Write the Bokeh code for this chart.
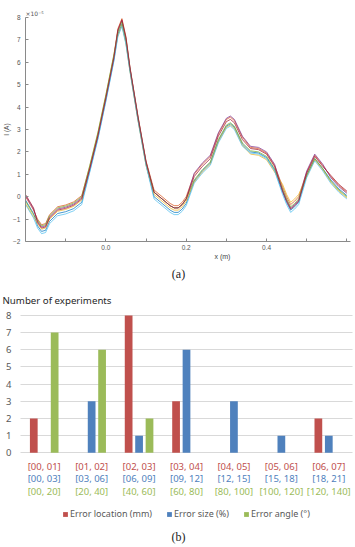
from bokeh.plotting import figure
from bokeh.models import (FixedTicker, Legend, LegendItem, Range1d, ColumnDataSource,
                          Title, Grid, PrintfTickFormatter)
from bokeh.transform import dodge
from bokeh.embed import file_html
from bokeh.resources import INLINE
from bokeh.core.properties import value

# ---------------- (a) current profiles along x ----------------
x_m = [-0.20, -0.18, -0.17, -0.16, -0.15, -0.14,
       -0.12, -0.10, -0.08, -0.06, -0.04, -0.02,
       0.00, 0.02, 0.03, 0.04, 0.05, 0.06,
       0.08, 0.10, 0.12, 0.14, 0.16, 0.17,
       0.18, 0.19, 0.20, 0.22, 0.24, 0.26,
       0.28, 0.30, 0.31, 0.32, 0.34, 0.36,
       0.38, 0.40, 0.42, 0.44, 0.45, 0.46,
       0.47, 0.48, 0.50, 0.52, 0.54, 0.56,
       0.58, 0.60]

# current in units of 1e-5 A
i_blue = [-0.15, -0.75, -1.30, -1.55, -1.50, -1.10,
          -0.75, -0.67, -0.53, -0.25, 1.15, 2.60,
          4.30, 6.10, 7.25, 7.70, 6.90, 5.65,
          3.45, 1.45, 0.00, -0.30, -0.60, -0.70,
          -0.70, -0.55, -0.30, 0.70, 1.15, 1.50,
          2.50, 3.15, 3.25, 3.10, 2.35, 2.00,
          1.95, 1.75, 1.20, 0.20, -0.25, -0.60,
          -0.45, -0.25, 0.95, 1.70, 1.25, 0.75,
          0.35, 0.05]
i_orange = [0.00, -0.60, -1.00, -1.25, -1.20, -0.80,
            -0.45, -0.37, -0.23, 0.05, 1.35, 2.80,
            4.50, 6.30, 7.50, 7.95, 7.15, 5.80,
            3.60, 1.60, 0.30, 0.00, -0.30, -0.40,
            -0.40, -0.25, 0.00, 1.00, 1.45, 1.80,
            2.80, 3.45, 3.55, 3.40, 2.65, 2.20,
            2.15, 1.95, 1.40, 0.45, 0.00, -0.35,
            -0.20, 0.00, 1.10, 1.85, 1.40, 0.90,
            0.50, 0.20]
i_yellow = [-0.30, -0.90, -1.20, -1.45, -1.40, -1.00,
            -0.65, -0.57, -0.43, -0.15, 1.30, 2.75,
            4.45, 6.25, 7.20, 7.65, 6.85, 5.60,
            3.40, 1.40, 0.10, -0.20, -0.50, -0.60,
            -0.60, -0.45, -0.20, 0.65, 1.10, 1.45,
            2.45, 3.10, 3.20, 3.05, 2.30, 1.90,
            1.85, 1.65, 1.10, 0.55, 0.10, -0.25,
            -0.10, 0.10, 0.90, 1.65, 1.20, 0.65,
            0.25, -0.05]
i_purple = [0.05, -0.55, -1.10, -1.35, -1.30, -0.90,
            -0.55, -0.47, -0.33, -0.05, 1.25, 2.70,
            4.40, 6.20, 7.40, 7.85, 7.05, 5.75,
            3.55, 1.55, 0.20, -0.10, -0.40, -0.50,
            -0.50, -0.35, -0.10, 1.05, 1.50, 1.85,
            2.85, 3.50, 3.60, 3.45, 2.70, 2.25,
            2.20, 2.00, 1.45, 0.30, -0.15, -0.50,
            -0.35, -0.15, 1.15, 1.90, 1.45, 0.85,
            0.45, 0.15]
i_green = [-0.20, -0.80, -1.05, -1.30, -1.25, -0.85,
           -0.50, -0.42, -0.28, 0.00, 1.40, 2.85,
           4.55, 6.35, 7.35, 7.80, 7.00, 5.70,
           3.50, 1.50, 0.20, -0.10, -0.40, -0.50,
           -0.50, -0.35, -0.10, 0.75, 1.20, 1.55,
           2.55, 3.20, 3.30, 3.15, 2.40, 2.05,
           2.00, 1.80, 1.25, 0.35, -0.10, -0.45,
           -0.30, -0.10, 0.95, 1.70, 1.25, 0.70,
           0.30, 0.00]
i_cyan = [-0.35, -0.95, -1.40, -1.65, -1.60, -1.20,
          -0.85, -0.77, -0.63, -0.35, 1.10, 2.55,
          4.25, 6.05, 7.15, 7.60, 6.80, 5.60,
          3.40, 1.40, -0.10, -0.40, -0.70, -0.80,
          -0.80, -0.65, -0.40, 0.60, 1.05, 1.40,
          2.40, 3.05, 3.15, 3.00, 2.25, 1.95,
          1.90, 1.70, 1.15, 0.10, -0.35, -0.70,
          -0.55, -0.35, 0.85, 1.60, 1.15, 0.60,
          0.20, -0.10]
i_darkred = [0.10, -0.50, -1.15, -1.40, -1.35, -0.95,
             -0.60, -0.52, -0.38, -0.10, 1.25, 2.70,
             4.40, 6.20, 7.45, 7.90, 7.10, 5.75,
             3.55, 1.55, 0.20, -0.10, -0.40, -0.50,
             -0.50, -0.35, -0.10, 0.90, 1.35, 1.70,
             2.70, 3.35, 3.45, 3.30, 2.55, 2.15,
             2.10, 1.90, 1.35, 0.25, -0.20, -0.55,
             -0.40, -0.20, 1.05, 1.80, 1.35, 0.95,
             0.55, 0.25]

profiles = [i_blue, i_orange, i_yellow, i_purple, i_green, i_cyan, i_darkred]
profile_colors = ["#0072BD", "#D95319", "#EDB120", "#7E2F8E", "#77AC30", "#4DBEEE", "#A2142F"]

x_major = [0.0, 0.2, 0.4]
x_minor = [-0.1, 0.1, 0.3, 0.5, 0.6]
y_ticks_a = [-2, -1, 0, 1, 2, 3, 4, 5, 6, 7, 8]

top = figure(width=355, height=266, output_backend="svg", toolbar_location=None,
             x_range=Range1d(-0.2, 0.609), y_range=Range1d(-2, 8),
             min_border_left=25, min_border_right=5, min_border_top=17, min_border_bottom=25)
top.outline_line_color = None
top.grid.visible = False

for ys, c in zip(profiles, profile_colors):
    top.line(x_m, ys, line_color=c, line_width=1.0, line_alpha=0.72, line_join="round")

top.xaxis.ticker = FixedTicker(ticks=x_major, minor_ticks=x_minor)
top.xaxis.formatter = PrintfTickFormatter(format="%.1f")
top.yaxis.ticker = FixedTicker(ticks=y_ticks_a)
for ax in (top.xaxis[0], top.yaxis[0]):
    ax.axis_line_color = "#8a8a8a"
    ax.major_tick_line_color = "#8a8a8a"
    ax.minor_tick_line_color = "#8a8a8a"
    ax.major_tick_in = 3
    ax.major_tick_out = 0
    ax.minor_tick_in = 3
    ax.minor_tick_out = 0
    ax.major_label_text_font = "Liberation Sans"
    ax.major_label_text_font_size = "6.5px"
    ax.major_label_text_color = "#555555"
top.xaxis.major_label_standoff = 3
top.yaxis.major_label_standoff = 5
top.yaxis.axis_label = "I (A)"
top.yaxis.axis_label_text_font = "Liberation Sans"
top.yaxis.axis_label_text_font_size = "6.5px"
top.yaxis.axis_label_text_font_style = "normal"
top.yaxis.axis_label_text_color = "#444444"
top.yaxis.axis_label_standoff = 0

top.add_layout(Title(text="×10⁻⁵", align="left", offset=0, standoff=2,
                     text_font="DejaVu Sans", text_font_size="6px",
                     text_font_style="normal", text_color="#555555"), "above")
top.add_layout(Title(text="x (m)", align="left", offset=189, standoff=0,
                     vertical_align="top", text_font="Liberation Sans",
                     text_font_size="7px", text_font_style="normal",
                     text_color="#444444"), "below")

# ---------------- (b) histogram of experiment errors ----------------
groups = [0, 1, 2, 3, 4, 5, 6]
loc_labels = ["[00, 01]", "[01, 02]", "[02, 03]", "[03, 04]", "[04, 05]", "[05, 06]", "[06, 07]"]
size_labels = ["[00, 03]", "[03, 06]", "[06, 09]", "[09, 12]", "[12, 15]", "[15, 18]", "[18, 21]"]
angle_labels = ["[00, 20]", "[20, 40]", "[40, 60]", "[60, 80]", "[80, 100]", "[100, 120]", "[120, 140]"]
loc_counts = [2, 0, 8, 3, 0, 0, 2]
size_counts = [0, 3, 1, 6, 3, 1, 1]
angle_counts = [7, 6, 2, 0, 0, 0, 0]
y_ticks_b = [0, 1, 2, 3, 4, 5, 6, 7, 8]

c_loc, c_size, c_angle = "#C0504D", "#4F81BD", "#9BBB59"

src = ColumnDataSource(dict(g=groups, loc=loc_counts, size=size_counts, angle=angle_counts,
                            loc_lab=loc_labels, size_lab=size_labels, angle_lab=angle_labels,
                            y1=[-0.77] * 7, y2=[-1.50] * 7, y3=[-2.23] * 7))
tick_src = ColumnDataSource(dict(y=y_ticks_b, t=[str(v) for v in y_ticks_b],
                                 x=[-0.5] * len(y_ticks_b)))

# the frame spans the whole canvas; the count scale sits left of group 0
bot = figure(width=355, height=281, output_backend="svg", toolbar_location=None,
             x_range=Range1d(-0.9217, 6.563), y_range=Range1d(-5.515, 10.850),
             x_axis_location=None, y_axis_location=None,
             min_border_left=0, min_border_right=0, min_border_top=0, min_border_bottom=0)
bot.outline_line_color = None
bot.grid.visible = False
bot.add_layout(Grid(dimension=1, ticker=FixedTicker(ticks=y_ticks_b),
                    cross_bounds=(-0.5, 6.5), grid_line_color="#D9D9D9", grid_line_width=1))

r_loc = bot.vbar(x=dodge("g", -0.22, range=bot.x_range), top="loc", width=0.163,
                 source=src, fill_color=c_loc, line_color=None)
r_size = bot.vbar(x=dodge("g", 0.0, range=bot.x_range), top="size", width=0.163,
                  source=src, fill_color=c_size, line_color=None)
r_angle = bot.vbar(x=dodge("g", 0.22, range=bot.x_range), top="angle", width=0.163,
                   source=src, fill_color=c_angle, line_color=None)

for ycol, tcol, col in (("y1", "loc_lab", c_loc), ("y2", "size_lab", c_size), ("y3", "angle_lab", c_angle)):
    bot.text(x="g", y=ycol, text=tcol, source=src, text_color=col,
             text_font=value("Noto Sans"), text_font_size="9.5px",
             text_align="center", text_baseline="middle")

bot.text(x="x", y="y", text="t", source=tick_src, x_offset=-9,
         text_color="#595959", text_font=value("Noto Sans"), text_font_size="9.5px",
         text_align="right", text_baseline="middle")

bot.text(x=[-0.88], y=[8.87], text=["Number of experiments"],
         text_font=value("Noto Sans"), text_font_size="9.7px",
         text_color="#262626", text_align="left", text_baseline="middle")
bot.text(x=[2.831], y=[10.425], text=["(a)"],
         text_font=value("Liberation Serif"), text_font_size="12px",
         text_color="#222222", text_align="center", text_baseline="middle")
bot.text(x=[2.831], y=[-4.93], text=["(b)"],
         text_font=value("Liberation Serif"), text_font_size="12px",
         text_color="#222222", text_align="center", text_baseline="middle")

legend = Legend(items=[LegendItem(label="Error location (mm)", renderers=[r_loc]),
                       LegendItem(label="Error size (%)", renderers=[r_size]),
                       LegendItem(label="Error angle (°)", renderers=[r_angle])],
                orientation="horizontal", location=(62, 27),
                glyph_width=6, glyph_height=6, label_standoff=2, spacing=14,
                label_height=10, padding=0, margin=0,
                background_fill_alpha=0, border_line_alpha=0,
                label_text_font="Noto Sans", label_text_font_size="9px",
                label_text_color="#595959")
bot.add_layout(legend)

open("out.html", "w").write(file_html([top, bot], INLINE))
